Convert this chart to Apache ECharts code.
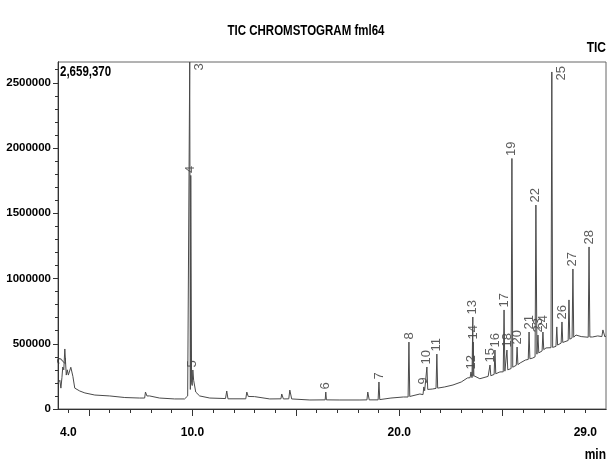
<!DOCTYPE html>
<html>
<head>
<meta charset="utf-8">
<script src="https://cdn.jsdelivr.net/npm/echarts@6/dist/echarts.min.js"></script>
<style>
  html, body { margin: 0; padding: 0; background: #fff; }
  #chart { width: 612px; height: 466px; }
</style>
</head>
<body>
<div id="chart"></div>
<script>
// chromatogram trace: [time (min), intensity]
let baseline = [
  [3.5, 200000], [3.59, 220000], [3.64, 160000], [3.69, 240000], [3.78, 300000],
  [3.83, 460000], [3.9, 260000], [3.95, 300000], [4.0, 260000], [4.12, 320000],
  [4.22, 250000], [4.31, 160000], [4.55, 138000], [4.8, 123000], [5.28, 107000],
  [6.0, 100000], [6.73, 88000], [7.45, 84000], [7.69, 84000], [7.73, 130000], [7.8, 100000],
  [7.93, 100000], [8.41, 84000], [9.14, 77000], [9.62, 77000], [9.77, 100000], [9.85, 110000],
  [9.9, 150000], [9.96, 200000], [9.99, 180000], [10.06, 220000], [10.16, 130000], [10.35, 100000],
  [10.84, 84000], [11.6, 80000], [11.66, 138000], [11.72, 78000], [12.58, 78000],
  [12.63, 130000], [12.7, 96000], [13.0, 95000], [13.74, 77000], [14.28, 78000],
  [14.32, 115000], [14.4, 77000], [14.66, 78000], [14.71, 145000], [14.8, 77000],
  [15.68, 69000], [16.42, 70000], [16.48, 70000], [17.13, 69000], [18.1, 69000],
  [18.44, 70000], [18.48, 130000], [18.55, 70000], [18.98, 70000], [19.06, 72000],
  [19.6, 84000], [20.2, 92000], [20.43, 92000], [20.51, 96000], [21.0, 115000],
  [21.15, 110000], [21.23, 140000], [21.3, 145000], [21.38, 150000], [21.6, 153000],
  [21.78, 158000], [21.86, 160000], [21.95, 161000], [22.2, 169000],
  [22.6, 184000], [23.0, 207000], [23.3, 238000], [23.43, 240000], [23.52, 240000], [23.565, 250000],
  [23.61, 255000], [23.9, 232000], [24.3, 250000], [24.35, 250000], [24.43, 255000],
  [24.59, 265000], [24.67, 270000], [24.87, 284000], [25.03, 285000], [25.11, 290000],
  [25.17, 292000], [25.25, 300000], [25.41, 310000], [25.49, 320000], [25.55, 330000],
  [25.66, 335000], [25.74, 340000], [25.85, 353000], [26.1, 375000], [26.24, 380000],
  [26.32, 385000], [26.45, 390000], [26.57, 400000], [26.66, 420000], [26.75, 430000],
  [26.8, 440000], [26.91, 445000], [26.99, 455000], [27.1, 468000], [27.34, 470000],
  [27.42, 472000], [27.5, 475000], [27.58, 480000], [27.62, 629000], [27.66, 490000],
  [27.72, 500000], [27.83, 505000], [27.91, 510000], [28.0, 520000], [28.17, 525000],
  [28.21, 836000], [28.25, 535000], [28.36, 545000], [28.44, 550000], [28.55, 567000],
  [28.8, 555000], [29.14, 550000], [29.22, 552000], [29.35, 552000], [29.6, 560000],
  [29.8, 555000], [29.85, 606000], [29.95, 552000], [30.0, 560000]
];

let peakNames = ['2', '3', '4', '5', '6', '7', '8', '9', '10', '11', '12', '13', '14',
  '15', '16', '17', '18', '19', '20', '21', '22', '23', '24', '25', '26', '27', '28'];
let peakTimes = [3.73, 9.87, 9.92, 10.02, 16.45, 19.02, 20.47, 21.19, 21.34, 21.82, 23.47,
  23.56, 23.58, 24.39, 24.63, 25.07, 25.21, 25.45, 25.7, 26.28, 26.61, 26.71, 26.95,
  27.38, 27.87, 28.4, 29.18];
let peakHeights = [322000, 2659370, 1790000, 299000, 130000, 207000, 513000, 169000, 322000,
  421000, 284000, 705000, 513000, 337000, 452000, 759000, 452000, 1920000, 475000, 590000,
  1563000, 567000, 590000, 2583000, 667000, 1073000, 1242000];

let xLabelValues = [4, 10, 20, 29];
let yLabelValues = [0, 500000, 1000000, 1500000, 2000000, 2500000];
let yMax = 2659370;

let xTicks = [];
for (let i = 4; i <= 29; i++) xTicks.push(i);
let xTicksLong = [5, 10, 15, 20, 25];
let yMinorTicks = [];
for (let v = 0; v <= 2600000; v += 100000) yMinorTicks.push(v);

let peaks = peakTimes.map((t, i) => [t, peakHeights[i], peakNames[i]]);
let trace = baseline.concat(peaks.map((p) => [p[0], p[1]])).sort((a, b) => a[0] - b[0]);

const sans = '"Liberation Sans", Arial, sans-serif';
const axisCol = '#333';

const myChart = echarts.init(document.getElementById('chart'), null, { renderer: 'canvas' });

let xBase = {
  type: 'value', min: 3.5, max: 30, position: 'bottom',
  axisLine: { show: true, lineStyle: { color: axisCol, width: 1 } },
  splitLine: { show: false },
};
let yBase = {
  type: 'value', min: 0, max: yMax, position: 'left',
  axisLine: { show: true, lineStyle: { color: axisCol, width: 1 } },
  splitLine: { show: false },
};

let option = {
  animation: false,
  backgroundColor: '#fff',
  grid: {
    left: 58, right: 6, top: 62, bottom: 57,
    outerBoundsMode: 'none', containLabel: false,
    show: true, borderColor: '#666', borderWidth: 1,
  },
  xAxis: [
    Object.assign({}, xBase, {
      axisTick: { show: true, length: 4, customValues: xTicks, lineStyle: { color: axisCol } },
      axisLabel: {
        customValues: xLabelValues, margin: 18,
        formatter: (v) => v.toFixed(1),
        fontFamily: sans, fontWeight: 'bold', fontSize: 12, color: '#000',
      },
    }),
    Object.assign({}, xBase, {
      axisTick: { show: true, length: 7, customValues: xTicksLong, lineStyle: { color: axisCol } },
      axisLabel: { show: false },
    }),
  ],
  yAxis: [
    Object.assign({}, yBase, {
      axisTick: { show: true, length: 5, customValues: yLabelValues, lineStyle: { color: axisCol } },
      axisLabel: {
        customValues: yLabelValues, margin: 7,
        formatter: (v) => String(v),
        fontFamily: sans, fontWeight: 'bold', fontSize: 11.5, color: '#000',
      },
    }),
    Object.assign({}, yBase, {
      axisTick: { show: true, length: 3, customValues: yMinorTicks, lineStyle: { color: axisCol } },
      axisLabel: { show: false },
    }),
  ],
  graphic: [
    { type: 'text', left: 'center', top: 24, scaleY: 1.2,
      style: { text: 'TIC CHROMSTOGRAM fml64', font: 'bold 11.5px ' + sans, fill: '#000' } },
    { type: 'text', right: 6, top: 41, scaleY: 1.2,
      style: { text: 'TIC', font: 'bold 12px ' + sans, fill: '#000' } },
    { type: 'text', left: 60, top: 65, scaleY: 1.2,
      style: { text: '2,659,370', font: 'bold 11.5px ' + sans, fill: '#000' } },
    { type: 'text', right: 6, top: 448, scaleY: 1.2,
      style: { text: 'min', font: 'bold 12px ' + sans, fill: '#000' } },
  ],
  series: [
    {
      type: 'line', data: trace, showSymbol: false, symbol: 'none',
      lineStyle: { color: '#4a4a4a', width: 1 },
      clip: true,
    },
    {
      type: 'scatter', symbolSize: 1,
      itemStyle: { color: 'rgba(0,0,0,0)' },
      label: {
        show: true, formatter: (p) => p.value[2], rotate: 90,
        position: 'top', distance: 2, align: 'left', verticalAlign: 'middle',
        fontFamily: sans, fontSize: 13, color: '#333',
      },
      // labels of peaks touching the top of the frame sit beside the line
      data: peaks.map((p) => (p[1] > 2400000
        ? { value: p, label: { position: [10, 9] } }
        : { value: p })),
    },
  ],
};

option && myChart.setOption(option);
</script>
</body>
</html>
